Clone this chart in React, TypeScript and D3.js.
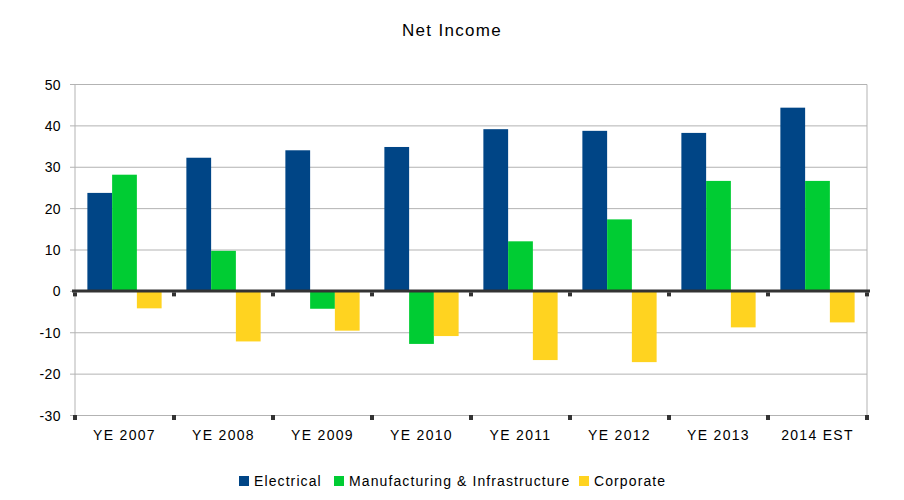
import { useEffect, useRef } from 'react';
import * as d3 from 'd3';

const categories = ['YE 2007', 'YE 2008', 'YE 2009', 'YE 2010', 'YE 2011', 'YE 2012', 'YE 2013', '2014 EST'];
const seriesNames = ['Electrical', 'Manufacturing & Infrastructure', 'Corporate'];
const electrical = [23.8, 32.3, 34.1, 34.9, 39.2, 38.8, 38.3, 44.4];
const manufacturing = [28.2, 9.8, -4.2, -12.7, 12.1, 17.4, 26.7, 26.7];
const corporate = [-4.1, -12.1, -9.5, -10.8, -16.6, -17.1, -8.7, -7.5];
const yTicks = [-30, -20, -10, 0, 10, 20, 30, 40, 50];
const colors = ['#004586', '#00cc33', '#ffd320'];

const width = 904;
const height = 500;
const plot = { left: 75, right: 867, top: 84.5, bottom: 415.5 };
const font = '"Liberation Sans", Arial, sans-serif';

export default function App() {
  const ref = useRef<SVGSVGElement>(null);

  useEffect(() => {
    const svg = d3.select(ref.current);
    svg.selectAll('*').remove();

    const values = [electrical, manufacturing, corporate];

    const x0 = d3.scaleBand<string>().domain(categories).range([plot.left, plot.right]);
    const bw = x0.bandwidth();
    const x1 = d3
      .scaleBand<string>()
      .domain(seriesNames)
      .range([bw * 0.125, bw * 0.875]);
    const y = d3.scaleLinear().domain([-30, 50]).range([plot.bottom, plot.top]);

    svg
      .append('text')
      .attr('x', 452)
      .attr('y', 36)
      .attr('text-anchor', 'middle')
      .attr('font-family', font)
      .attr('font-size', 17)
      .attr('letter-spacing', 1.3)
      .attr('fill', '#000')
      .text('Net Income');

    // gridlines + y ticks
    const grid = svg.append('g');
    yTicks.forEach((t) => {
      grid
        .append('line')
        .attr('x1', plot.left - 5)
        .attr('x2', plot.right)
        .attr('y1', y(t))
        .attr('y2', y(t))
        .attr('stroke', '#b3b3b3')
        .attr('stroke-width', 1);
      grid
        .append('text')
        .attr('x', 61)
        .attr('y', y(t) + 5)
        .attr('text-anchor', 'end')
        .attr('font-family', font)
        .attr('font-size', 14)
        .attr('letter-spacing', 0.4)
        .attr('fill', '#000')
        .text(String(t));
    });
    grid
      .append('line')
      .attr('x1', plot.left)
      .attr('x2', plot.left)
      .attr('y1', plot.top)
      .attr('y2', plot.bottom)
      .attr('stroke', '#b3b3b3');
    grid
      .append('line')
      .attr('x1', plot.right)
      .attr('x2', plot.right)
      .attr('y1', plot.top)
      .attr('y2', plot.bottom)
      .attr('stroke', '#b3b3b3');

    // bars
    values.forEach((vals, si) => {
      svg
        .append('g')
        .selectAll('rect')
        .data(vals)
        .enter()
        .append('rect')
        .attr('x', (_, i) => x0(categories[i])! + x1(seriesNames[si])!)
        .attr('width', x1.bandwidth())
        .attr('y', (d) => y(Math.max(0, d)))
        .attr('height', (d) => Math.abs(y(d) - y(0)))
        .attr('fill', colors[si]);
    });

    // zero axis line
    svg
      .append('line')
      .attr('x1', plot.left - 3)
      .attr('x2', plot.right + 3)
      .attr('y1', y(0) - 0.5)
      .attr('y2', y(0) - 0.5)
      .attr('stroke', '#333333')
      .attr('stroke-width', 3);

    // category boundary ticks
    const bounds = categories.map((c) => x0(c)!).concat([plot.right]);
    bounds.forEach((b) => {
      svg
        .append('rect')
        .attr('x', b - 2)
        .attr('y', y(0) + 1)
        .attr('width', 4)
        .attr('height', 4)
        .attr('fill', '#333333');
      svg
        .append('rect')
        .attr('x', b - 2)
        .attr('y', plot.bottom - 0.5)
        .attr('width', 4)
        .attr('height', 5)
        .attr('fill', '#333333');
    });

    // x labels
    categories.forEach((c) => {
      svg
        .append('text')
        .attr('x', x0(c)! + bw / 2)
        .attr('y', 440)
        .attr('text-anchor', 'middle')
        .attr('font-family', font)
        .attr('font-size', 14)
        .attr('letter-spacing', 1.3)
        .attr('fill', '#000')
        .text(c);
    });

    // legend
    const legendX = [239, 334, 579];
    seriesNames.forEach((name, i) => {
      svg
        .append('rect')
        .attr('x', legendX[i])
        .attr('y', 476)
        .attr('width', 10)
        .attr('height', 10)
        .attr('fill', colors[i]);
      svg
        .append('text')
        .attr('x', legendX[i] + 15)
        .attr('y', 486)
        .attr('font-family', font)
        .attr('font-size', 14)
        .attr('letter-spacing', 1.1)
        .attr('fill', '#000')
        .text(name);
    });
  }, []);

  return (
    <svg
      ref={ref}
      width={width}
      height={height}
      style={{ position: 'absolute', left: 0, top: 0, background: '#fff' }}
    />
  );
}
